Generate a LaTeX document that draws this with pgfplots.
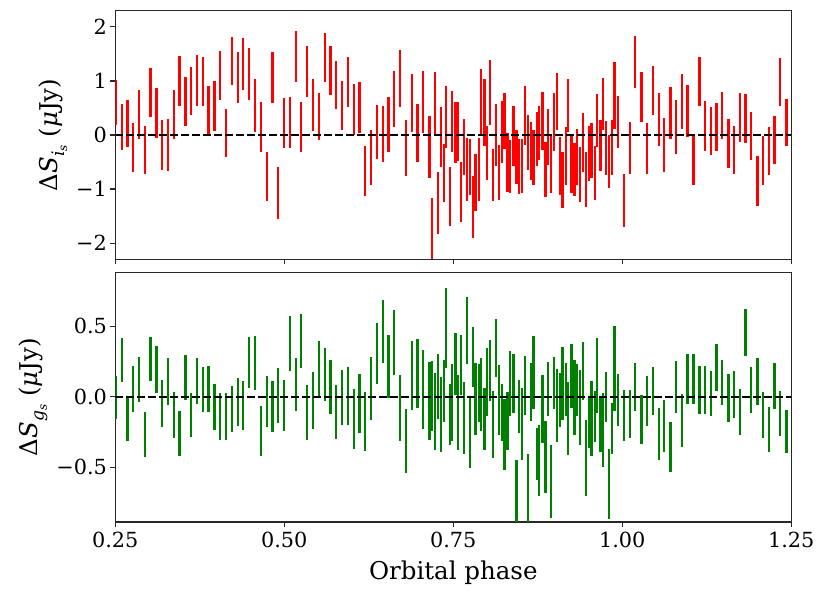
\documentclass[border=0pt]{standalone}
\usepackage{pgfplots}
\usepackage{pgfplotstable}
\pgfplotsset{compat=1.18}
\usepackage{fontspec}
\setmainfont{DejaVu Serif}
\pgfplotstableread{
x y e
0.2510 0.608 0.417
0.2595 0.154 0.426
0.2678 0.213 0.441
0.2762 -0.235 0.451
0.2851 0.386 0.454
0.2935 -0.272 0.444
0.3018 0.790 0.451
0.3107 0.407 0.463
0.3191 -0.185 0.469
0.3280 -0.185 0.475
0.3364 0.380 0.454
0.3447 0.997 0.460
0.3536 0.627 0.454
0.3620 0.812 0.448
0.3709 1.003 0.472
0.3793 0.994 0.451
0.3876 0.454 0.454
0.3965 0.543 0.463
0.4049 1.099 0.457
0.4138 0.037 0.451
0.4222 1.370 0.444
0.4311 1.062 0.469
0.4393 1.321 0.481
0.4478 1.133 0.478
0.4567 0.552 0.491
0.4651 0.148 0.469
0.4740 -0.765 0.451
0.4823 1.062 0.469
0.4911 -1.074 0.481
0.4996 0.225 0.466
0.5080 0.231 0.472
0.5169 1.457 0.469
0.5251 0.151 0.460
0.5340 1.179 0.469
0.5425 0.556 0.475
0.5513 0.340 0.438
0.5598 1.438 0.451
0.5681 1.194 0.454
0.5769 0.926 0.438
0.5854 0.543 0.451
0.5942 0.978 0.466
0.6027 0.472 0.472
0.6115 0.515 0.472
0.6198 -0.660 0.463
0.6283 -0.414 0.512
0.6371 0.056 0.506
0.6456 0.022 0.522
0.6544 0.188 0.509
0.6627 0.664 0.515
0.6712 1.052 0.528
0.6800 -0.244 0.515
0.6885 0.586 0.537
0.6973 0.037 0.537
0.7056 0.608 0.571
0.7145 -0.219 0.577
0.7189 -1.735 0.562
0.7230 0.593 0.568
0.7274 -1.262 0.577
0.7314 -0.034 0.559
0.7358 -0.704 0.543
0.7396 0.327 0.574
0.7447 -1.139 0.546
0.7485 0.250 0.565
0.7530 0.049 0.568
0.7570 0.071 0.546
0.7618 -1.052 0.559
0.7658 -0.222 0.525
0.7703 -0.636 0.580
0.7743 -0.596 0.522
0.7791 -1.333 0.580
0.7831 -0.877 0.525
0.7876 -0.636 0.580
0.7914 0.596 0.620
0.7959 0.420 0.623
0.7999 -0.330 0.497
0.8047 0.781 0.602
0.8087 -0.741 0.488
0.8132 -0.003 0.577
0.8172 -0.691 0.506
0.8216 0.056 0.574
0.8260 0.256 0.515
0.8299 -0.512 0.549
0.8343 -0.583 0.497
0.8388 -0.015 0.552
0.8432 -0.404 0.503
0.8476 -0.577 0.509
0.8516 -0.571 0.503
0.8561 0.358 0.549
0.8605 -0.142 0.512
0.8649 -0.299 0.540
0.8689 -0.423 0.509
0.8734 -0.074 0.506
0.8772 0.040 0.497
0.8817 0.265 0.537
0.8861 -0.642 0.512
0.8905 -0.040 0.515
0.8945 -0.528 0.546
0.8990 0.247 0.537
0.9034 0.623 0.525
0.9078 -0.574 0.531
0.9118 -0.836 0.515
0.9163 -0.386 0.534
0.9201 0.546 0.491
0.9246 -0.543 0.531
0.9290 -0.639 0.497
0.9334 -0.407 0.525
0.9374 -0.728 0.512
0.9419 -0.142 0.543
0.9463 -0.827 0.506
0.9503 -0.349 0.509
0.9547 -0.284 0.506
0.9592 -0.704 0.506
0.9630 0.275 0.491
0.9675 -0.194 0.478
0.9715 0.571 0.485
0.9763 -0.241 0.494
0.9803 -0.488 0.494
0.9848 -0.225 0.509
0.9885 0.735 0.617
0.9936 0.244 0.485
1.0025 -1.213 0.497
1.0110 -0.238 0.478
1.0192 1.349 0.478
1.0281 0.698 0.463
1.0366 -0.250 0.466
1.0450 0.818 0.454
1.0539 0.284 0.488
1.0621 -0.188 0.497
1.0710 0.407 0.488
1.0794 0.154 0.500
1.0883 0.614 0.509
1.0967 0.438 0.481
1.1056 -0.451 0.469
1.1139 0.991 0.460
1.1223 0.170 0.466
1.1312 0.071 0.441
1.1396 0.148 0.444
1.1479 0.361 0.435
1.1568 -0.160 0.457
1.1652 -0.278 0.451
1.1741 0.321 0.451
1.1825 0.302 0.457
1.1908 -0.019 0.444
1.1997 -0.852 0.457
1.2081 -0.472 0.448
1.2170 -0.290 0.444
1.2254 -0.090 0.448
1.2337 0.975 0.444
1.2426 0.231 0.435
}\topdata
\pgfplotstableread{
x y e
0.2510 -0.006 0.150
0.2595 0.261 0.156
0.2678 -0.161 0.156
0.2762 0.053 0.162
0.2851 0.122 0.162
0.2935 -0.271 0.160
0.3018 0.268 0.159
0.3107 0.193 0.165
0.3191 -0.051 0.167
0.3280 0.105 0.167
0.3364 -0.128 0.164
0.3447 -0.261 0.161
0.3536 0.136 0.162
0.3620 -0.133 0.156
0.3709 0.111 0.166
0.3793 0.052 0.161
0.3876 0.052 0.164
0.3965 -0.076 0.164
0.4049 -0.142 0.166
0.4138 -0.142 0.166
0.4222 -0.086 0.162
0.4311 -0.038 0.171
0.4393 -0.062 0.175
0.4478 0.241 0.181
0.4567 0.239 0.192
0.4651 -0.244 0.178
0.4740 -0.033 0.180
0.4823 -0.072 0.181
0.4911 0.009 0.194
0.4996 -0.063 0.181
0.5080 0.378 0.193
0.5169 0.086 0.186
0.5251 0.397 0.193
0.5340 -0.114 0.194
0.5425 -0.025 0.203
0.5513 0.200 0.193
0.5598 0.155 0.188
0.5681 0.070 0.191
0.5769 -0.109 0.190
0.5854 -0.004 0.195
0.5942 0.005 0.204
0.6027 -0.160 0.212
0.6115 -0.051 0.210
0.6198 -0.178 0.209
0.6283 0.056 0.222
0.6371 0.308 0.216
0.6456 0.464 0.223
0.6544 0.213 0.223
0.6627 0.382 0.230
0.6712 -0.081 0.232
0.6800 -0.315 0.227
0.6885 0.150 0.243
0.6973 0.164 0.246
0.7056 0.050 0.280
0.7145 -0.033 0.277
0.7189 0.005 0.251
0.7230 -0.105 0.274
0.7274 0.073 0.230
0.7314 -0.128 0.268
0.7358 0.039 0.219
0.7396 0.488 0.284
0.7447 -0.127 0.214
0.7485 -0.041 0.271
0.7530 0.235 0.220
0.7570 -0.113 0.267
0.7618 0.225 0.216
0.7658 -0.152 0.256
0.7703 0.470 0.236
0.7743 -0.255 0.252
0.7791 0.283 0.214
0.7831 -0.019 0.256
0.7876 0.026 0.209
0.7914 0.017 0.258
0.7959 -0.159 0.223
0.7999 0.103 0.243
0.8047 0.185 0.218
0.8087 -0.200 0.238
0.8132 0.345 0.207
0.8172 -0.023 0.248
0.8216 -0.113 0.205
0.8260 -0.269 0.252
0.8299 -0.172 0.205
0.8343 0.094 0.233
0.8388 0.094 0.210
0.8432 -0.700 0.250
0.8476 -0.068 0.188
0.8516 -0.195 0.257
0.8561 0.079 0.207
0.8605 -0.660 0.250
0.8649 0.033 0.204
0.8689 0.172 0.257
0.8734 -0.406 0.184
0.8772 -0.451 0.252
0.8817 -0.088 0.244
0.8861 -0.431 0.256
0.8905 0.056 0.193
0.8945 -0.600 0.260
0.8990 0.097 0.187
0.9034 -0.062 0.258
0.9078 -0.024 0.190
0.9118 0.094 0.257
0.9163 0.052 0.190
0.9201 -0.155 0.257
0.9246 0.147 0.227
0.9290 -0.007 0.268
0.9334 0.045 0.185
0.9374 -0.077 0.269
0.9419 0.185 0.206
0.9463 -0.436 0.270
0.9503 -0.184 0.184
0.9547 -0.154 0.268
0.9592 -0.143 0.181
0.9630 0.150 0.264
0.9675 -0.200 0.190
0.9715 -0.235 0.261
0.9763 -0.002 0.178
0.9803 -0.620 0.250
0.9848 -0.224 0.181
0.9885 0.198 0.302
0.9936 -0.023 0.184
1.0025 -0.133 0.180
1.0110 -0.123 0.171
1.0192 0.066 0.171
1.0281 -0.162 0.172
1.0366 -0.031 0.175
1.0450 0.041 0.172
1.0539 -0.265 0.187
1.0621 -0.209 0.182
1.0710 -0.360 0.178
1.0794 0.069 0.182
1.0883 -0.169 0.188
1.0967 0.127 0.177
1.1056 0.128 0.178
1.1139 0.047 0.168
1.1223 0.050 0.171
1.1312 0.023 0.160
1.1396 0.207 0.165
1.1479 0.100 0.159
1.1568 -0.011 0.169
1.1652 0.015 0.167
1.1741 -0.109 0.161
1.1825 0.453 0.166
1.1908 0.047 0.164
1.1997 0.109 0.166
1.2081 -0.130 0.161
1.2170 -0.233 0.162
1.2254 0.075 0.165
1.2337 -0.121 0.159
1.2426 -0.249 0.154
}\botdata
\definecolor{mplgreen}{RGB}{0,128,0}
\definecolor{framec}{RGB}{40,40,40}
\newcommand{\tfont}{\fontsize{20.8}{24}\selectfont}
\newcommand{\lfont}{\fontsize{24.5}{28}\selectfont}
\begin{document}
\begin{tikzpicture}
\useasboundingbox (0,0) rectangle (830pt,597pt);
\pgfplotsset{
  panel/.style={
    scale only axis, width=676pt,
    xmin=0.25, xmax=1.25,
    xtick={0.25,0.5,0.75,1.0,1.25},
    axis line style={line width=1.1pt, framec},
    every tick/.style={line width=1.1pt, framec},
    tick align=outside, major tick length=4.9pt,
    xtick pos=bottom, ytick pos=left,
    minor tick num=0,
    tick label style={font=\tfont},
    xticklabel style={yshift=-2pt},
    label style={font=\lfont},
    ylabel style={xshift=0pt, yshift=2pt},
    xlabel style={yshift=-6pt},
    clip=true,
  },
  bars/.style={draw=none, mark=none, forget plot,
    error bars/.cd, y dir=both, y explicit, error mark=none,
    error bar style={draw=#1, line width=2.4pt}},
}
\begin{axis}[panel, anchor=south west, at={(115.3pt,337.7pt)}, height=248.6pt,
  ymin=-2.3, ymax=2.3,
  ytick={-2,-1,0,1,2}, yticklabels={−2,−1,0,1,2},
  xticklabels={},
  ylabel={Δ\textit{S}\raisebox{-0.5ex}{\fontsize{17.2}{19}\selectfont\textit{i}\raisebox{-0.35ex}{\fontsize{12}{14}\selectfont\textit{s}}} (\textit{μ}Jy)},
]
\addplot[bars=red] table[x=x, y=y, y error=e] {\topdata};
\addplot[black, line width=2.08pt, dash pattern=on 7.7pt off 3.3pt, forget plot] coordinates {(0.25,0) (1.25,0)};
\end{axis}
\begin{axis}[panel, anchor=south west, at={(115.3pt,75pt)}, height=249.3pt,
  ymin=-0.89, ymax=0.88,
  ytick={-0.5,0,0.5}, yticklabels={−0.5,0.0,0.5},
  xticklabels={0.25,0.50,0.75,1.00,1.25},
  xlabel={Orbital phase},
  ylabel={Δ\textit{S}\raisebox{-0.5ex}{\fontsize{17.2}{19}\selectfont\textit{g}\raisebox{-0.35ex}{\fontsize{12}{14}\selectfont\textit{s}}} (\textit{μ}Jy)},
]
\addplot[bars=mplgreen] table[x=x, y=y, y error=e] {\botdata};
\addplot[black, line width=2.08pt, dash pattern=on 7.7pt off 3.3pt, forget plot] coordinates {(0.25,0) (1.25,0)};
\end{axis}
\end{tikzpicture}
\end{document}
